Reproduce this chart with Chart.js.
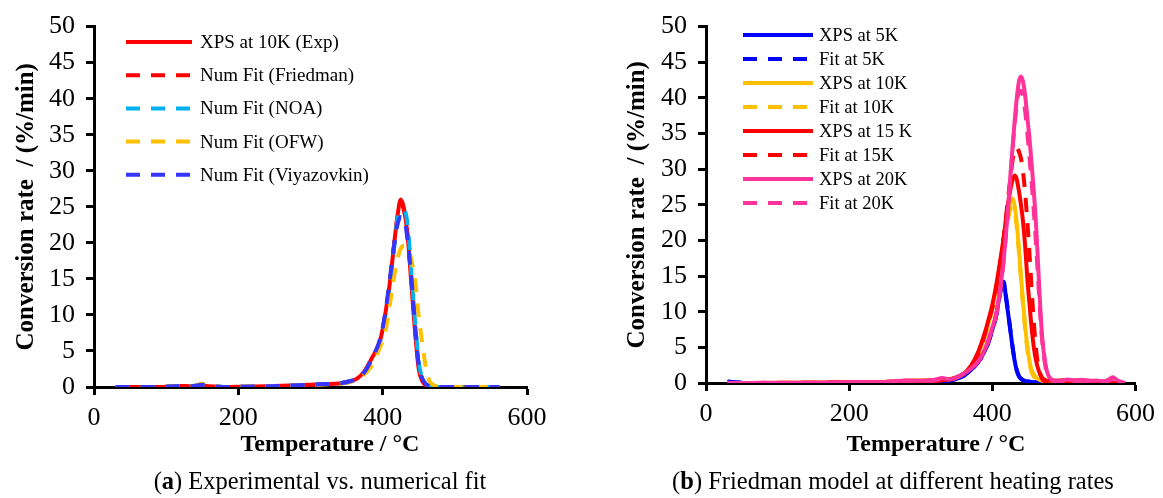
<!DOCTYPE html>
<html>
<head>
<meta charset="utf-8">
<script src="https://cdn.jsdelivr.net/npm/chart.js@4.4.1/dist/chart.umd.min.js"></script>
<style>
  html, body { margin: 0; padding: 0; background: #fff; }
  #wrap { position: relative; width: 1163px; height: 498px; overflow: hidden; font-family: "Liberation Serif", "Times New Roman", serif; color: #000; }
  canvas { position: absolute; top: 0; }
  .xtitle { position: absolute; font-weight: bold; font-size: 24px; line-height: 24px; white-space: nowrap; transform: translateX(-50%); }
  .caption { position: absolute; font-size: 24.5px; line-height: 24px; white-space: nowrap; transform: translateX(-50%); }
</style>
</head>
<body>
<div id="wrap">
  <canvas id="chartA" width="580" height="498" style="left:0px"></canvas>
  <canvas id="chartB" width="583" height="498" style="left:580px"></canvas>
  <div class="xtitle" style="left:330px; top:431px;">Temperature / °C</div>
  <div class="xtitle" style="left:936px; top:431px;">Temperature / °C</div>
  <div class="caption" style="left:320px; top:469px;">(<b>a</b>) Experimental vs. numerical fit</div>
  <div class="caption" style="left:893px; top:469px;">(<b>b</b>) Friedman model at different heating rates</div>
</div>
<script>
// ---- Panel (a): experiment at 10 K/min vs. numerical fits ----
const tempA = [30, 60, 90, 120, 135, 150, 160, 180, 210, 240, 270, 300, 320, 340, 355, 365, 375, 385, 395, 400, 405, 410, 415, 420, 425, 430, 435, 440, 445, 450, 455, 460, 465, 470, 480, 500, 530, 562];
const expXps10 =  [0, 0, 0, 0.15, 0.1, 0.2, 0.1, 0, 0.05, 0.1, 0.2, 0.3, 0.4, 0.5, 0.8, 1.2, 2.2, 4.0, 6.0, 8.0, 11.0, 14.5, 19.0, 23.3, 26.0, 24.5, 20.5, 14.0, 7.5, 2.5, 0.8, 0.25, 0.1, 0, 0, 0, 0, 0];
const fitFriedman = [0, 0, 0, 0.15, 0.1, 0.2, 0.1, 0, 0.05, 0.1, 0.2, 0.3, 0.4, 0.5, 0.8, 1.2, 2.2, 4.0, 6.0, 8.0, 11.0, 14.5, 19.0, 23.2, 25.3, 24.3, 20.5, 14.5, 8.0, 3.0, 1.0, 0.3, 0.1, 0, 0, 0, 0, 0];
const fitNOA =      [0, 0, 0, 0.1, 0.1, 0.3, 0.15, 0, 0.05, 0.1, 0.2, 0.3, 0.4, 0.5, 0.8, 1.2, 2.1, 3.8, 5.8, 7.8, 10.8, 14.3, 18.5, 23.0, 24.3, 24.6, 22.0, 15.5, 9.0, 3.5, 1.2, 0.4, 0.1, 0, 0, 0, 0, 0];
const fitOFW =      [0, 0, 0, 0.1, 0.1, 0.45, 0.3, 0, 0.05, 0.1, 0.2, 0.3, 0.35, 0.45, 0.7, 1.0, 1.8, 3.0, 5.2, 6.5, 8.3, 11.5, 14.8, 17.5, 19.2, 19.6, 19.3, 17.5, 14.7, 9.8, 6.0, 2.6, 0.8, 0.3, 0.05, 0, 0, 0];
const fitViyazovkin = [0, 0, 0, 0.15, 0.1, 0.3, 0.15, 0, 0.05, 0.1, 0.2, 0.3, 0.4, 0.5, 0.8, 1.2, 2.1, 3.9, 6.2, 8.2, 11.2, 15.0, 19.0, 22.3, 23.6, 23.2, 20.0, 15.0, 8.5, 3.0, 1.2, 0.4, 0.1, 0, 0, 0, 0, 0];
const labelsA = ['XPS at 10K (Exp)', 'Num Fit (Friedman)', 'Num Fit (NOA)', 'Num Fit (OFW)', 'Num Fit (Viyazovkin)'];

// ---- Panel (b): Friedman model at 5, 10, 15, 20 K/min ----
const tempB = [30, 60, 100, 150, 200, 250, 280, 300, 320, 330, 340, 350, 360, 370, 380, 390, 395, 400, 405, 410, 413, 416, 419, 422, 425, 428, 431, 434, 437, 440, 443, 446, 449, 452, 455, 458, 461, 464, 467, 470, 474, 478, 485, 495, 505, 515, 525, 535, 545, 555, 562, 568, 575, 585];
const xps5 =  [0.2, 0, 0, 0, 0.05, 0.1, 0.1, 0.15, 0.2, 0.25, 0.3, 0.6, 1.0, 1.8, 2.9, 4.6, 5.9, 7.5, 9.3, 12.2, 14.0, 14.2, 12.0, 9.8, 7.5, 5.2, 3.2, 1.8, 1.0, 0.6, 0.4, 0.3, 0.25, 0.2, 0.15, 0.12, 0.1, 0.08, 0.05, 0.04, 0.03, 0.02, 0, 0, 0, 0, 0, 0, 0, 0, 0, 0, 0, 0];
const fit5 =  [0.1, 0, 0, 0, 0.05, 0.1, 0.1, 0.15, 0.2, 0.25, 0.3, 0.6, 1.0, 1.8, 2.9, 4.5, 5.8, 7.4, 9.2, 12.0, 13.5, 13.8, 12.2, 10.0, 7.6, 5.3, 3.3, 1.9, 1.0, 0.6, 0.4, 0.3, 0.25, 0.2, 0.15, 0.12, 0.1, 0.08, 0.05, 0.04, 0.03, 0.02, 0, 0, 0, 0, 0, 0, 0, 0, 0, 0, 0, 0];
const xps10 = [0, 0, 0.02, 0.05, 0.1, 0.15, 0.3, 0.35, 0.4, 0.45, 0.55, 0.8, 1.3, 2.3, 4.0, 6.8, 8.5, 10.5, 13.2, 16.0, 18.0, 20.2, 22.3, 24.0, 25.3, 25.9, 25.0, 22.5, 19.0, 15.0, 11.2, 7.8, 5.0, 3.0, 1.8, 1.2, 0.8, 0.55, 0.4, 0.3, 0.2, 0.12, 0.05, 0.02, 0, 0, 0, 0, 0, 0, 0, 0, 0, 0];
const fit10 = [0, 0, 0.02, 0.05, 0.1, 0.15, 0.3, 0.35, 0.4, 0.45, 0.55, 0.8, 1.3, 2.3, 4.0, 6.7, 8.4, 10.4, 13.0, 15.7, 17.6, 19.7, 21.6, 23.0, 24.3, 24.8, 24.2, 22.0, 18.5, 14.5, 10.8, 7.4, 4.6, 2.7, 1.5, 0.9, 0.6, 0.4, 0.3, 0.2, 0.12, 0.08, 0.03, 0.01, 0, 0, 0, 0, 0, 0, 0, 0, 0, 0];
const xps15 = [0, 0, 0, 0.05, 0.1, 0.15, 0.25, 0.3, 0.35, 0.4, 0.5, 0.8, 1.3, 2.4, 4.3, 7.2, 9.0, 11.0, 13.5, 16.5, 18.5, 20.5, 23.0, 25.2, 27.0, 28.4, 29.1, 28.6, 27.0, 25.0, 22.5, 19.0, 14.5, 11.0, 7.6, 5.0, 3.2, 2.0, 1.2, 0.7, 0.4, 0.3, 0.3, 0.35, 0.4, 0.35, 0.4, 0.3, 0.2, 0.15, 0.1, 0.05, 0.05, 0];
const fit15 = [0, 0, 0, 0.05, 0.1, 0.15, 0.25, 0.3, 0.35, 0.4, 0.5, 0.8, 1.3, 2.3, 4.0, 7.0, 8.7, 10.5, 13.0, 16.0, 18.2, 20.5, 23.2, 26.0, 28.5, 31.0, 32.7, 33.0, 32.5, 31.5, 29.5, 26.5, 22.5, 18.0, 13.0, 8.5, 4.8, 2.5, 1.2, 0.5, 0.2, 0.1, 0.05, 0, 0, 0, 0, 0, 0, 0, 0, 0, 0, 0];
const xps20 = [0, 0, 0.05, 0.05, 0.1, 0.15, 0.35, 0.3, 0.45, 0.7, 0.5, 0.8, 1.3, 2.0, 3.0, 4.8, 6.2, 7.8, 9.5, 12.5, 14.8, 17.5, 20.8, 24.5, 28.8, 32.7, 36.5, 39.8, 42.2, 43.0, 42.2, 40.2, 37.2, 34.2, 30.6, 26.8, 22.3, 16.5, 10.5, 6.0, 2.8, 1.1, 0.4, 0.3, 0.5, 0.35, 0.45, 0.3, 0.35, 0.25, 0.45, 0.8, 0.35, 0];
const fit20 = [0, 0, 0.05, 0.05, 0.1, 0.15, 0.3, 0.3, 0.4, 0.6, 0.5, 0.8, 1.3, 2.0, 3.0, 4.8, 6.1, 7.7, 9.4, 12.0, 14.4, 17.2, 20.7, 24.5, 28.5, 32.5, 36.0, 39.0, 40.8, 41.0, 40.0, 38.0, 35.0, 31.5, 28.0, 24.0, 19.5, 14.5, 9.5, 5.5, 2.4, 1.0, 0.3, 0.2, 0.3, 0.25, 0.3, 0.2, 0.25, 0.2, 0.3, 0.5, 0.25, 0];
const labelsB = ['XPS at 5K', 'Fit at 5K', 'XPS at 10K', 'Fit at 10K', 'XPS at 15 K', 'Fit at 15K', 'XPS at 20K', 'Fit at 20K'];

// Axis ticks shared by both panels
const tempTicks = [0, 200, 400, 600];
const rateTicks = [0, 5, 10, 15, 20, 25, 30, 35, 40, 45, 50];

const SERIF = '"Liberation Serif", "Times New Roman", serif';
const DASH = [14, 11];

function series(temps, vals) {
  return temps.map((t, i) => ({ x: t, y: vals[i] }));
}

// Legend drawn as line samples inside the plot area
const lineLegend = {
  id: 'lineLegend',
  afterDraw(chart, args, opts) {
    const ctx = chart.ctx;
    chart.data.datasets.forEach((ds, i) => {
      const y = opts.y + i * opts.step;
      ctx.save();
      ctx.strokeStyle = ds.borderColor;
      ctx.lineWidth = ds.borderWidth;
      ctx.lineCap = 'butt';
      ctx.setLineDash(ds.borderDash || []);
      ctx.beginPath();
      ctx.moveTo(opts.x, y);
      ctx.lineTo(opts.x + opts.len, y);
      ctx.stroke();
      ctx.setLineDash([]);
      ctx.fillStyle = '#000';
      ctx.font = opts.font;
      ctx.textBaseline = 'middle';
      ctx.textAlign = 'left';
      ctx.fillText(ds.label, opts.x + opts.len + opts.gap, y + 1);
      ctx.restore();
    });
  }
};

function makeDatasets(temps, valueLists, labels, colors, dashed) {
  const n = valueLists.length;
  return valueLists.map((vals, i) => ({
    label: labels[i],
    data: series(temps, vals),
    borderColor: colors[i],
    backgroundColor: colors[i],
    borderWidth: 4,
    borderDash: dashed[i] ? DASH : [],
    pointRadius: 0,
    fill: false,
    cubicInterpolationMode: 'monotone',
    order: n - 1 - i
  }));
}

function makeOptions(cfg) {
  return {
    responsive: false,
    animation: false,
    events: [],
    layout: { padding: { left: 0, top: 24, right: cfg.padRight, bottom: 0 } },
    plugins: {
      legend: { display: false },
      tooltip: { enabled: false },
      lineLegend: cfg.legend
    },
    scales: {
      x: {
        type: 'linear',
        min: 0, max: 600,
        afterBuildTicks: (s) => { s.ticks = tempTicks.map(v => ({ value: v })); },
        afterFit: (s) => { s.height = cfg.xHeight; },
        grid: { drawOnChartArea: false, drawTicks: true, tickLength: 8, tickWidth: 3, tickColor: '#000' },
        border: { display: true, color: '#000', width: 3 },
        ticks: { color: '#000', padding: 8, maxRotation: 0, font: { family: SERIF, size: 26 } }
      },
      y: {
        type: 'linear',
        min: 0, max: 50,
        afterBuildTicks: (s) => { s.ticks = rateTicks.map(v => ({ value: v })); },
        afterFit: (s) => { s.width = cfg.yWidth; },
        grid: { drawOnChartArea: false, drawTicks: true, tickLength: 8, tickWidth: 3, tickColor: '#000' },
        border: { display: true, color: '#000', width: 3 },
        ticks: { color: '#000', padding: 11, font: { family: SERIF, size: 26 } },
        title: {
          display: true,
          text: 'Conversion rate  / (%/min)',
          color: '#000',
          padding: { top: cfg.yTitlePad, bottom: 0 },
          font: { family: SERIF, size: 25, weight: 'bold' }
        }
      }
    }
  };
}

new Chart(document.getElementById('chartA'), {
  type: 'line',
  data: {
    datasets: makeDatasets(
      tempA,
      [expXps10, fitFriedman, fitNOA, fitOFW, fitViyazovkin],
      labelsA,
      ['#FF0000', '#FF0000', '#00B0F0', '#FFC000', '#3535FF'],
      [false, true, true, true, true]
    )
  },
  options: makeOptions({
    padRight: 53, xHeight: 111, yWidth: 94, yTitlePad: 12,
    legend: { x: 126, y: 42, step: 33.2, len: 66, gap: 8, font: '19px ' + SERIF }
  }),
  plugins: [lineLegend]
});

new Chart(document.getElementById('chartB'), {
  type: 'line',
  data: {
    datasets: makeDatasets(
      tempB,
      [xps5, fit5, xps10, fit10, xps15, fit15, xps20, fit20],
      labelsB,
      ['#0000FF', '#0000FF', '#FFC000', '#FFC000', '#FF0000', '#FF0000', '#FF3399', '#FF3399'],
      [false, true, false, true, false, true, false, true]
    )
  },
  options: makeOptions({
    padRight: 26, xHeight: 115, yWidth: 126, yTitlePad: 43,
    legend: { x: 163, y: 35, step: 24, len: 70, gap: 6, font: '18.5px ' + SERIF }
  }),
  plugins: [lineLegend]
});
</script>
</body>
</html>
